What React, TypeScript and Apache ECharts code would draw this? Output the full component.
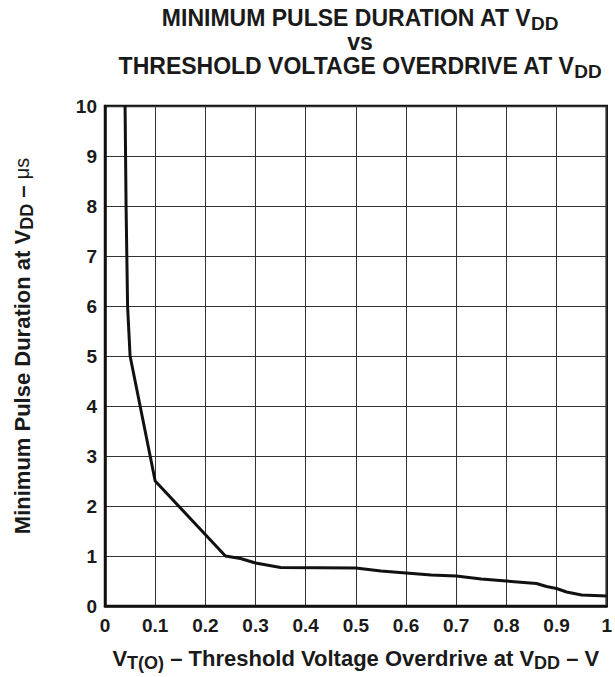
import React, { useEffect, useRef } from "react";
import * as echarts from "echarts";

// Threshold voltage overdrive (V)
const overdriveV = [0.04, 0.042, 0.045, 0.05, 0.1, 0.24, 0.27, 0.3, 0.35, 0.5, 0.55, 0.6, 0.65, 0.7, 0.75, 0.8, 0.86, 0.88, 0.9, 0.92, 0.95, 1.0];
// Minimum pulse duration (µs)
const pulseUs = [10, 8, 6, 5, 2.5, 1.0, 0.95, 0.86, 0.77, 0.76, 0.7, 0.66, 0.62, 0.6, 0.54, 0.5, 0.45, 0.39, 0.35, 0.28, 0.22, 0.2];

const titleLines = [
  "MINIMUM PULSE DURATION AT V{sub|DD}",
  "vs",
  "THRESHOLD VOLTAGE OVERDRIVE AT V{sub|DD}",
];
const xName = "V{sub|T(O)} – Threshold Voltage Overdrive at V{sub|DD} – V";
const yName = "Minimum Pulse Duration at V{sub|DD} – {mu|μs}";

const FONT = "'Liberation Sans', Arial, Helvetica, sans-serif";
const INK = "#1a1a1a";

export default function App() {
  const ref = useRef<HTMLDivElement>(null);
  useEffect(() => {
    if (!ref.current) return;
    const chart = echarts.init(ref.current, undefined, { renderer: "svg" });
    const titleY = [18, 42, 66];
    chart.setOption({
      animation: false,
      backgroundColor: "#fff",
      textStyle: { fontFamily: FONT },
      graphic: titleLines.map((t, i) => ({
        type: "text",
        x: 360,
        y: titleY[i],
        style: {
          text: t,
          fontFamily: FONT,
          fontWeight: "bold",
          fontSize: 23,
          lineHeight: 20,
          fill: INK,
          align: "center",
          verticalAlign: "middle",
          rich: {
            sub: { fontSize: 19, lineHeight: 10, fontWeight: "bold", fontFamily: FONT, fill: INK, padding: [10, 0, 0, 0] },
          },
        },
      })),
      grid: {
        left: 104,
        right: 4,
        top: 106,
        bottom: 66,
        show: true,
        borderColor: "#111",
        borderWidth: 2.5,
        containLabel: false,
      },
      xAxis: {
        type: "value",
        min: 0,
        max: 1,
        interval: 0.1,
        name: xName,
        nameLocation: "middle",
        nameGap: 41,
        nameTextStyle: {
          fontFamily: FONT,
          fontWeight: "bold",
          fontSize: 22,
          lineHeight: 22,
          color: INK,
          rich: {
            sub: { fontSize: 18, lineHeight: 12, fontWeight: "bold", fontFamily: FONT, color: INK, padding: [10, 0, 0, 0] },
          },
        },
        axisLine: { show: true, lineStyle: { color: "#111", width: 2.5 } },
        axisTick: { show: false },
        axisLabel: {
          fontFamily: FONT,
          fontWeight: "bold",
          fontSize: 19,
          color: INK,
          margin: 10,
          formatter: (v: number) => (v === 0 || v === 1 ? String(v) : v.toFixed(1)),
        },
        splitLine: { show: true, lineStyle: { color: "#333", width: 1 } },
      },
      yAxis: {
        type: "value",
        min: 0,
        max: 10,
        interval: 1,
        name: yName,
        nameLocation: "middle",
        nameGap: 72,
        nameTextStyle: {
          fontFamily: FONT,
          fontWeight: "bold",
          fontSize: 22,
          lineHeight: 22,
          color: INK,
          padding: [0, 0, 0, 20],
          rich: {
            sub: { fontSize: 18, lineHeight: 12, fontWeight: "bold", fontFamily: FONT, color: INK, padding: [10, 0, 0, 0] },
            mu: { fontSize: 20, lineHeight: 22, fontWeight: "normal", fontFamily: FONT, color: INK },
          },
        },
        axisLine: { show: true, lineStyle: { color: "#111", width: 2.5 } },
        axisTick: { show: false },
        axisLabel: {
          fontFamily: FONT,
          fontWeight: "bold",
          fontSize: 19,
          color: INK,
          margin: 8,
        },
        splitLine: { show: true, lineStyle: { color: "#333", width: 1 } },
      },
      series: [
        {
          type: "line",
          data: overdriveV.map((x, i) => [x, pulseUs[i]]),
          symbol: "none",
          smooth: false,
          lineStyle: { color: "#111", width: 3 },
        },
      ],
    });
    return () => chart.dispose();
  }, []);
  return (
    <div
      ref={ref}
      style={{ position: "fixed", left: 0, top: 0, width: 615, height: 677 }}
    />
  );
}
